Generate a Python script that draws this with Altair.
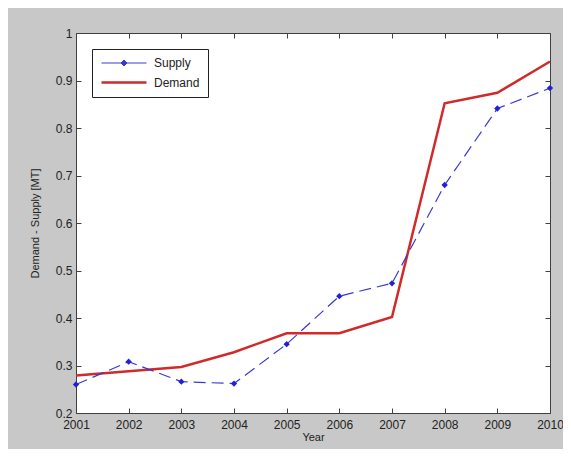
import altair as alt
import pandas as pd

years = [2001, 2002, 2003, 2004, 2005, 2006, 2007, 2008, 2009, 2010]
supply = [0.260, 0.308, 0.266, 0.262, 0.345, 0.446, 0.473, 0.680, 0.841, 0.884]
demand = [0.279, 0.288, 0.297, 0.328, 0.368, 0.368, 0.402, 0.852, 0.874, 0.940]
y_ticks = [0.2, 0.3, 0.4, 0.5, 0.6, 0.7, 0.8, 0.9, 1]
series_names = ["Supply", "Demand"]

BLUE = "#3a3ad0"
RED = "#d02a2a"
FONT = "Liberation Sans"

df_s = pd.DataFrame({"year": years, "value": supply, "series": "Supply"})
df_d = pd.DataFrame({"year": years, "value": demand, "series": "Demand"})
df_all = pd.concat([df_s, df_d], ignore_index=True)

xscale = alt.Scale(domain=[2001, 2010], nice=False, zero=False)
yscale = alt.Scale(domain=[0.2, 1.0], nice=False, zero=False)

axis_common = dict(domain=False, grid=False, tickSize=5, offset=-5,
                   tickColor="#404040", labelFont=FONT, labelFontSize=12,
                   labelColor="#222222", titleFont=FONT, titleFontSize=11,
                   titleFontWeight="normal", titleColor="#222222",
                   labelFlush=False, labelOverlap=False)

x_bottom = alt.X("year:Q", scale=xscale,
                 axis=alt.Axis(values=years, format="d", labelPadding=6,
                               title="Year", titlePadding=1, **axis_common))
y_left = alt.Y("value:Q", scale=yscale,
               axis=alt.Axis(values=y_ticks, format="~g", labelPadding=4,
                             title="Demand - Supply [MT]", titlePadding=15,
                             **axis_common))
x_top = alt.X("year:Q", scale=xscale,
              axis=alt.Axis(values=years, orient="top", labels=False, title=None,
                            **axis_common))
y_right = alt.Y("value:Q", scale=yscale,
                axis=alt.Axis(values=y_ticks, orient="right", labels=False,
                              title=None, **axis_common))

demand_line = alt.Chart(df_d).mark_line(color=RED, strokeWidth=2.5).encode(
    x=x_bottom, y=y_left)

supply_line = alt.Chart(df_s).mark_line(
    color=BLUE, strokeWidth=1.2, strokeDash=[12, 6]).encode(x=x_top, y=y_right)

supply_pts = alt.Chart(df_s).mark_point(
    shape="diamond", filled=True, color="#2020d8", size=40, opacity=1).encode(
    x=alt.X("year:Q", scale=xscale, axis=None),
    y=alt.Y("value:Q", scale=yscale, axis=None))

# legend symbol paths (line with marker / plain line)
sym_supply = "M-1,0H8M3.5,-0.6L4.1,0L3.5,0.6L2.9,0Z"
sym_demand = "M-1,0H8"

leg = alt.Legend(orient="none", legendX=16, legendY=16, symbolSize=100,
                 symbolOpacity=1, labelOffset=41, rowPadding=7, padding=8,
                 strokeColor="#222222", fillColor="#ffffff", cornerRadius=0,
                 labelFont=FONT, labelFontSize=12, labelColor="#222222")

carrier = alt.Chart(df_all).mark_point(opacity=0, filled=True).encode(
    x=alt.X("year:Q", scale=xscale, axis=None),
    y=alt.Y("value:Q", scale=yscale, axis=None),
    shape=alt.Shape("series:N", title=None, legend=leg,
                    scale=alt.Scale(domain=series_names, range=[sym_supply, sym_demand])),
    fill=alt.Fill("series:N", title=None, legend=leg,
                  scale=alt.Scale(domain=series_names, range=[BLUE, RED])),
    stroke=alt.Stroke("series:N", title=None, legend=leg,
                      scale=alt.Scale(domain=series_names, range=[BLUE, RED])),
    strokeWidth=alt.StrokeWidth("series:N", title=None, legend=leg,
                                scale=alt.Scale(domain=series_names, range=[1, 2.5])),
)

chart = alt.layer(demand_line, supply_line, supply_pts, carrier).resolve_axis(
    x="independent", y="independent"
).properties(
    width=474, height=380,
    autosize=alt.AutoSizeParams(type="none"),
    padding={"left": 68, "top": 25, "right": 13, "bottom": 36},
    background="#c8c8c8",
).configure_view(stroke="#404040", strokeWidth=1, fill="#ffffff")

chart.save("out.html", embed_options={"renderer": "svg", "actions": False})
